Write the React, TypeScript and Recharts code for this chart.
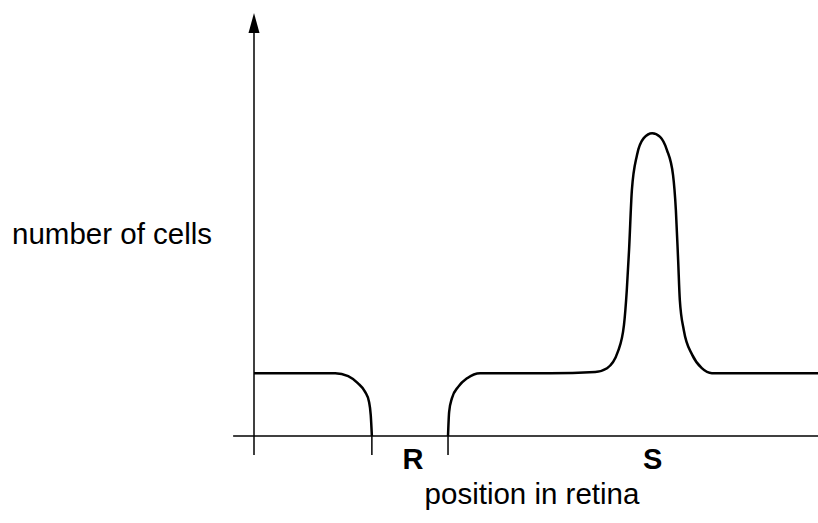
import { LineChart, Line, XAxis, YAxis, ReferenceLine, ReferenceDot, Label } from "recharts"

// retina position (0 = y axis, 100 = right edge), cell count (0..100)
const leftPos = [0, 8.2, 14.4, 16.7, 18.4, 19.7, 20.4, 20.7, 20.9]
const leftCells = [15.1, 15.1, 15.1, 14.4, 12.7, 10.6, 8.2, 5.0, 0]

const rightPos = [
  34.4, 34.6, 35.1, 36.2, 37.8, 40.1, 52.5, 60.5, 62.6, 64.5, 65.6, 66.1, 66.5, 67.0, 67.9, 69.1,
  70.6, 72.0, 73.2, 74.3, 74.8, 75.2, 75.5, 76.2, 77.7, 79.4, 81.2, 100,
]
const rightCells = [
  0, 5.8, 9.1, 11.8, 13.9, 15.1, 15.1, 15.4, 16.3, 20.2, 26.7, 35.1, 44.7, 59.1, 67.5, 71.6,
  72.8, 71.9, 68.8, 62.7, 54.3, 42.3, 32.7, 25.5, 19.5, 16.3, 15.1, 15.1,
]

const boundaryTicks = [0, 20.9, 34.4]
const regionNames = ["R", "S"]
const regionPos = [28.2, 70.7]

const leftData = leftPos.map((x, i) => ({ x, y: leftCells[i] }))
const rightData = rightPos.map((x, i) => ({ x, y: rightCells[i] }))

const font = '"Liberation Sans", Arial, sans-serif'

function AxisTick(props: any) {
  const { x, y, payload } = props
  const idx = regionPos.indexOf(payload.value)
  if (idx >= 0) {
    return (
      <text x={x} y={y + 33} textAnchor="middle" fontFamily={font} fontSize={29} fontWeight="bold" fill="#000">
        {regionNames[idx]}
      </text>
    )
  }
  return <line x1={x} y1={y} x2={x} y2={y + 19} stroke="#000" strokeWidth={1.5} />
}

function Arrow(props: any) {
  const { cx, cy } = props
  return <polygon points={`${cx},${cy - 7} ${cx - 5.5},${cy + 13} ${cx + 5.5},${cy + 13}`} fill="#000" />
}

export default function App() {
  return (
    <div style={{ position: "absolute", left: 0, top: 0, width: 818, height: 523, background: "#fff" }}>
      <LineChart width={818} height={523} margin={{ top: 20, right: 0, bottom: 0, left: 254 }}>
        <XAxis
          type="number"
          dataKey="x"
          domain={[0, 100]}
          ticks={[...boundaryTicks, ...regionPos]}
          interval={0}
          axisLine={false}
          tickLine={false}
          tickSize={0}
          tickMargin={0}
          tick={<AxisTick />}
          height={87}
        >
          <Label
            content={() => (
              <text x={532} y={504} textAnchor="middle" fontFamily={font} fontSize={29.5} fill="#000">
                position in retina
              </text>
            )}
          />
        </XAxis>
        <YAxis type="number" dataKey="y" domain={[0, 100]} hide />
        <ReferenceLine
          segment={[{ x: -3.7, y: 0 }, { x: 100, y: 0 }]}
          stroke="#000"
          strokeWidth={1.5}
          ifOverflow="visible"
        />
        <ReferenceLine
          segment={[{ x: 0, y: 0 }, { x: 0, y: 97 }]}
          stroke="#000"
          strokeWidth={1.5}
          ifOverflow="visible"
        >
          <Label
            content={() => (
              <text x={12} y={244} textAnchor="start" fontFamily={font} fontSize={29.5} fill="#000">
                number of cells
              </text>
            )}
          />
        </ReferenceLine>
        <ReferenceDot x={0} y={100} shape={<Arrow />} ifOverflow="visible" />
        <Line
          data={leftData}
          dataKey="y"
          type="monotone"
          stroke="#000"
          strokeWidth={2.5}
          dot={false}
          activeDot={false}
          isAnimationActive={false}
        />
        <Line
          data={rightData}
          dataKey="y"
          type="monotone"
          stroke="#000"
          strokeWidth={2.5}
          dot={false}
          activeDot={false}
          isAnimationActive={false}
        />
      </LineChart>
    </div>
  )
}
